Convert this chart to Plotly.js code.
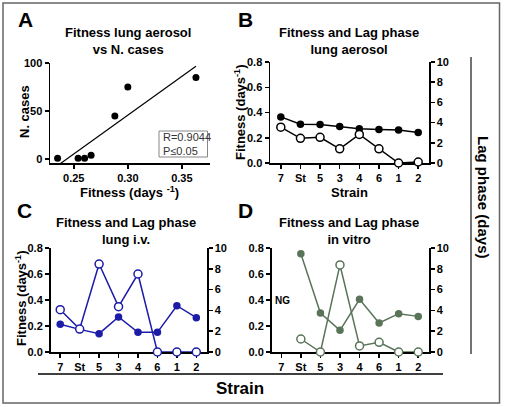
<!DOCTYPE html>
<html>
<head>
<meta charset="utf-8">
<script src="https://cdn.plot.ly/plotly-3.0.1.min.js"></script>
<style>html,body{margin:0;padding:0;background:#fff;}#chart{width:505px;height:407px;}</style>
</head>
<body>
<div id="chart"></div>
<script>
// ---- data ----
const strains = ['7', 'St', '5', '3', '4', '6', '1', '2'];

// Panel A: fitness (lung aerosol) vs number of cases
const fitnessA = [0.235, 0.254, 0.260, 0.266, 0.288, 0.300, 0.363];
const casesA = [1, 1, 1, 4, 45, 75, 85];

// Panel B: lung aerosol
const fitAerosol = [0.365, 0.307, 0.305, 0.289, 0.271, 0.266, 0.261, 0.242];
const lagAerosol = [3.55, 2.44, 2.54, 1.40, 2.83, 1.40, 0, 0.1];

// Panel C: lung i.v.
const fitIV = [0.213, 0.174, 0.141, 0.269, 0.151, 0.151, 0.356, 0.264];
const lagIV = [4.07, 2.21, 8.46, 4.36, 7.5, 0, 0, 0];

// Panel D: in vitro (strain 7: no growth)
const fitVitro = [null, 0.756, 0.30, 0.167, 0.405, 0.223, 0.295, 0.274];
const lagVitro = [null, 1.25, 0, 8.37, 0.58, 0.93, 0, 0];

// ---- helpers ----
const W = 505, H = 407;
const px = x => x / W;
const py = y => 1 - y / H;
const FONT = 'Liberation Sans, Arial, sans-serif';

// regression line from panel A data
const n = fitnessA.length;
const mx = fitnessA.reduce((a, b) => a + b, 0) / n;
const my = casesA.reduce((a, b) => a + b, 0) / n;
let sxy = 0, sxx = 0;
for (let i = 0; i < n; i++) { sxy += (fitnessA[i] - mx) * (casesA[i] - my); sxx += (fitnessA[i] - mx) ** 2; }
const slope = sxy / sxx, icpt = my - slope * mx;
const xMin = Math.min(...fitnessA), xMax = Math.max(...fitnessA);
const regX = [xMin, xMax];
const regY = regX.map(x => icpt + slope * x);

const BLUE = 'rgb(28,28,168)';
const GREEN = 'rgb(90,116,90)';

function pair(xa, yL, yR, fit, lag, color) {
  return [
    {x: strains, y: lag, xaxis: xa, yaxis: yR, type: 'scatter', mode: 'lines+markers',
     line: {color: color, width: 1.5},
     marker: {symbol: 'circle', size: 8, color: 'white', line: {color: color, width: 1.5}},
     cliponaxis: false, hoverinfo: 'skip'},
    {x: strains, y: fit, xaxis: xa, yaxis: yL, type: 'scatter', mode: 'lines+markers',
     line: {color: color, width: 1.5},
     marker: {symbol: 'circle', size: 7.5, color: color},
     cliponaxis: false, hoverinfo: 'skip'}
  ];
}

const traces = [
  {x: fitnessA, y: casesA, xaxis: 'x', yaxis: 'y', type: 'scatter', mode: 'markers',
   marker: {size: 7, color: 'black'}, cliponaxis: false, hoverinfo: 'skip'},
  {x: regX, y: regY, xaxis: 'x', yaxis: 'y', type: 'scatter', mode: 'lines',
   line: {color: 'black', width: 1.2}, hoverinfo: 'skip'},
  ...pair('x2', 'y2', 'y3', fitAerosol, lagAerosol, 'black'),
  ...pair('x3', 'y4', 'y5', fitIV, lagIV, BLUE),
  ...pair('x4', 'y6', 'y7', fitVitro, lagVitro, GREEN)
];

const tickF = {family: FONT, size: 11, color: 'black', weight: 'bold'};
const baseAx = {showgrid: false, zeroline: false, showline: true, linecolor: 'black', linewidth: 1.5,
  ticks: 'outside', ticklen: 4, tickwidth: 1.5, tickcolor: 'black', tickfont: tickF, fixedrange: true,
  layer: 'below traces'};
function catX(dom, anchor, range) {
  return Object.assign({}, baseAx, {domain: dom, anchor: anchor, type: 'category',
    categoryorder: 'array', categoryarray: strains, range: range});
}
function leftY(dom, anchor) {
  return Object.assign({}, baseAx, {domain: dom, anchor: anchor, range: [0, 0.8], dtick: 0.2, tickformat: '.1f'});
}
function rightY(dom, anchor, over) {
  return Object.assign({}, baseAx, {domain: dom, anchor: anchor, overlaying: over, side: 'right',
    range: [0, 10], dtick: 2});
}

const domA_x = [px(50), px(210)], domA_y = [py(163), py(63)];
const domB_x = [px(270), px(429)], domB_y = [py(163), py(62)];
const domC_x = [px(50.5), px(207)], domC_y = [py(352), py(248)];
const domD_x = [px(271.5), px(429)], domD_y = [py(352), py(248)];

function ann(text, x, y, size, opts) {
  return Object.assign({text: text, x: px(x), y: py(y), xref: 'paper', yref: 'paper', showarrow: false,
    xanchor: 'center', yanchor: 'middle', font: {family: FONT, size: size, color: 'black', weight: 'bold'}}, opts || {});
}

const layout = {
  width: W, height: H, margin: {l: 0, r: 0, t: 0, b: 0},
  paper_bgcolor: 'white', plot_bgcolor: 'rgba(0,0,0,0)', showlegend: false,
  xaxis: Object.assign({}, baseAx, {domain: domA_x, anchor: 'y', range: [0.228, 0.376],
    tickvals: [0.25, 0.30, 0.35], tickformat: '.2f'}),
  yaxis: Object.assign({}, baseAx, {domain: domA_y, anchor: 'x', range: [-4, 100], tickvals: [0, 50, 100]}),
  xaxis2: catX(domB_x, 'y2', [-0.55, 7.55]),
  yaxis2: leftY(domB_y, 'x2'),
  yaxis3: rightY(domB_y, 'x2', 'y2'),
  xaxis3: catX(domC_x, 'y4', [-0.5, 7.55]),
  yaxis4: leftY(domC_y, 'x3'),
  yaxis5: rightY(domC_y, 'x3', 'y4'),
  xaxis4: catX(domD_x, 'y6', [-0.5, 7.55]),
  yaxis6: leftY(domD_y, 'x4'),
  yaxis7: rightY(domD_y, 'x4', 'y6'),
  shapes: [
    {type: 'rect', xref: 'paper', yref: 'paper', x0: px(3), x1: px(499.5), y0: py(403), y1: py(3),
     line: {color: '#666', width: 1.5}},
    {type: 'line', xref: 'paper', yref: 'paper', x0: px(471), x1: px(471), y0: py(57), y1: py(354),
     line: {color: '#444', width: 1.5}},
    {type: 'line', xref: 'paper', yref: 'paper', x0: px(38), x1: px(443), y0: py(374), y1: py(374),
     line: {color: 'black', width: 1.5}},
    {type: 'rect', xref: 'paper', yref: 'paper', x0: px(159), x1: px(207.5), y0: py(157), y1: py(131),
     line: {color: '#888', width: 1}, fillcolor: 'white'}
  ],
  annotations: [
    ann('A', 25, 20, 21), ann('B', 245, 20, 21), ann('C', 24, 210, 21), ann('D', 245, 210, 21),
    ann('Fitness lung aerosol<br>vs N. cases', 128, 41, 13),
    ann('Fitness and Lag phase<br>lung aerosol', 349, 41, 13),
    ann('Fitness and Lag phase<br>lung i.v.', 126, 231, 13),
    ann('Fitness and Lag phase<br>in vitro', 349, 231, 13),
    ann('N. cases', 24, 112, 13, {textangle: -90}),
    ann('Fitness (days <sup>-1</sup>)', 129, 192, 13),
    ann('Fitness (days<sup>-1</sup>)', 240, 112, 13, {textangle: -90}),
    ann('Strain', 349, 192, 13),
    ann('Fitness (days<sup>-1</sup>)', 21, 298, 13, {textangle: -90}),
    ann('NG', 282.5, 300, 10),
    ann('Lag phase (days)', 484, 197, 15, {textangle: 90}),
    ann('Strain', 240, 388, 17),
    {text: 'R=0.9044<br>P≤0.05', x: px(161), y: py(144), xref: 'paper', yref: 'paper', showarrow: false,
     xanchor: 'left', yanchor: 'middle', align: 'left',
     font: {family: FONT, size: 11, color: '#333'}}
  ]
};

Plotly.newPlot('chart', traces, layout, {staticPlot: true, displayModeBar: false});
</script>
</body>
</html>
